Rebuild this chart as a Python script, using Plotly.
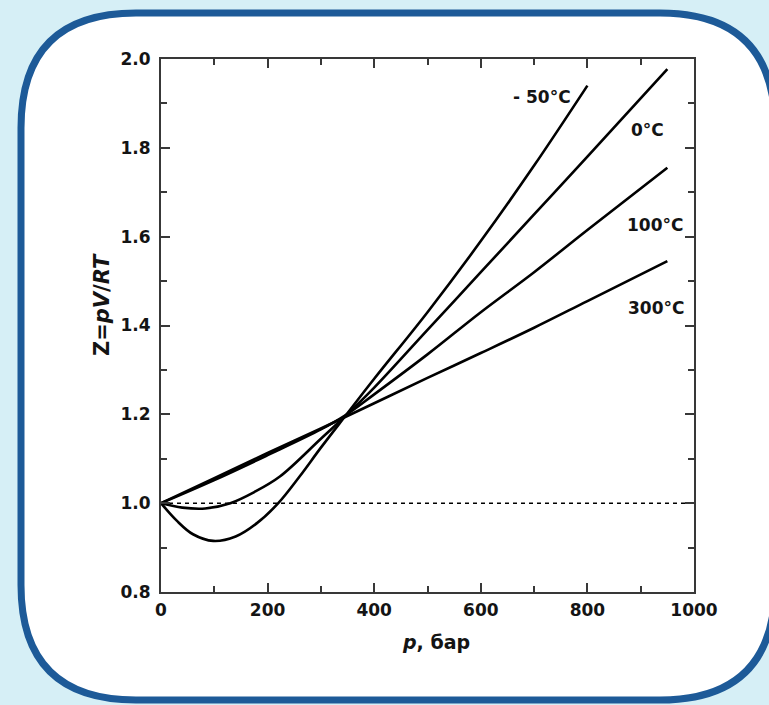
import plotly.graph_objects as go

# ---- data ----
p_m50 = [0, 30, 60, 98, 140, 180, 220, 260, 300, 345, 400, 500, 600, 700, 800]
z_m50 = [1.0, 0.96, 0.93, 0.915, 0.925, 0.955, 1.0, 1.06, 1.125, 1.195, 1.28, 1.43, 1.59, 1.76, 1.94]

p_0 = [0, 40, 83, 130, 175, 223, 300, 345, 400, 500, 600, 700, 800, 950]
z_0 = [1.0, 0.99, 0.988, 1.0, 1.025, 1.06, 1.145, 1.195, 1.26, 1.39, 1.52, 1.65, 1.78, 1.977]

p_100 = [0, 100, 200, 300, 345, 400, 500, 600, 700, 800, 950]
z_100 = [1.0, 1.052, 1.108, 1.166, 1.197, 1.245, 1.335, 1.43, 1.52, 1.615, 1.755]

p_300 = [0, 100, 200, 300, 400, 500, 600, 700, 800, 950]
z_300 = [1.0, 1.056, 1.113, 1.168, 1.225, 1.282, 1.338, 1.395, 1.455, 1.545]

ideal_p = [0, 1000]
ideal_z = [1.0, 1.0]

labels = ["- 50°C", "0°C", "100°C", "300°C"]
label_p = [715, 912, 927, 929]
label_z = [1.914, 1.84, 1.626, 1.439]

x_ticks = [0, 200, 400, 600, 800, 1000]
y_ticks = [0.8, 1.0, 1.2, 1.4, 1.6, 1.8, 2.0]

# ---- layout geometry (pixels) ----
W, H = 769, 705
L, R, T, B = 161, 694, 59, 592

def px(x):
    return (x - L) / (R - L)

def py(y):
    return (B - y) / (B - T)

FONT = "DejaVu Sans"
TXT = "#141414"
fig = go.Figure()

line = dict(color="black", width=2.6, shape="spline", smoothing=1.0)
for p, z in [(p_m50, z_m50), (p_0, z_0), (p_100, z_100), (p_300, z_300)]:
    fig.add_trace(go.Scatter(x=p, y=z, mode="lines", line=line, showlegend=False, hoverinfo="skip"))

fig.add_trace(go.Scatter(x=ideal_p, y=ideal_z, mode="lines",
                         line=dict(color="black", width=1.5, dash="4px,4px"),
                         showlegend=False, hoverinfo="skip"))

for t, xx, yy in zip(labels, label_p, label_z):
    fig.add_annotation(x=xx, y=yy, xref="x", yref="y", text="<b>%s</b>" % t,
                       showarrow=False, font=dict(family=FONT, size=17, color=TXT))

# rounded frame
x0, y0, x1, y1, r = 21, 13, 775, 700, 115
pts = (f"M {px(x0+r)},{py(y0)} L {px(x1-r)},{py(y0)} "
       f"Q {px(x1)},{py(y0)} {px(x1)},{py(y0+r)} "
       f"L {px(x1)},{py(y1-r)} Q {px(x1)},{py(y1)} {px(x1-r)},{py(y1)} "
       f"L {px(x0+r)},{py(y1)} Q {px(x0)},{py(y1)} {px(x0)},{py(y1-r)} "
       f"L {px(x0)},{py(y0+r)} Q {px(x0)},{py(y0)} {px(x0+r)},{py(y0)} Z")
fig.add_shape(type="path", path=pts, xref="paper", yref="paper",
              line=dict(color="#1d5a98", width=7), fillcolor="white", layer="below")

# axis titles
fig.add_annotation(x=px(88), y=py(305), xref="paper", yref="paper", textangle=-90,
                   text="<b>Z=<i>pV</i>/<i>RT</i></b>", showarrow=False,
                   font=dict(family=FONT, size=21, color=TXT))
fig.add_annotation(x=px(436), y=py(655), xref="paper", yref="paper",
                   text="<b><i>p</i>, бар</b>", showarrow=False,
                   font=dict(family=FONT, size=19, color=TXT))

axis_common = dict(showgrid=False, zeroline=False, showline=True, linecolor="#383838",
                   linewidth=2, mirror="ticks", ticks="inside", tickcolor="#383838",
                   tickwidth=1.6, ticklen=9,
                   tickfont=dict(family=FONT, size=17, color=TXT))

fig.update_xaxes(range=[0, 1000], tickvals=x_ticks, ticktext=["<b>%d</b>" % v for v in x_ticks],
                 minor=dict(dtick=100, tick0=0, ticks="inside", ticklen=6, tickcolor="#383838"),
                 ticklabelstandoff=2, **axis_common)
fig.update_yaxes(range=[0.8, 2.0], tickvals=y_ticks, ticktext=["<b>%.1f</b>" % v for v in y_ticks],
                 minor=dict(dtick=0.1, tick0=0.8, ticks="inside", ticklen=6, tickcolor="#383838"),
                 ticklabelstandoff=5, **axis_common)

fig.update_layout(width=W, height=H, margin=dict(l=L, r=W - R, t=T, b=H - B, pad=0),
                  paper_bgcolor="#d6eff6", plot_bgcolor="white")

fig.write_html("out.html")
